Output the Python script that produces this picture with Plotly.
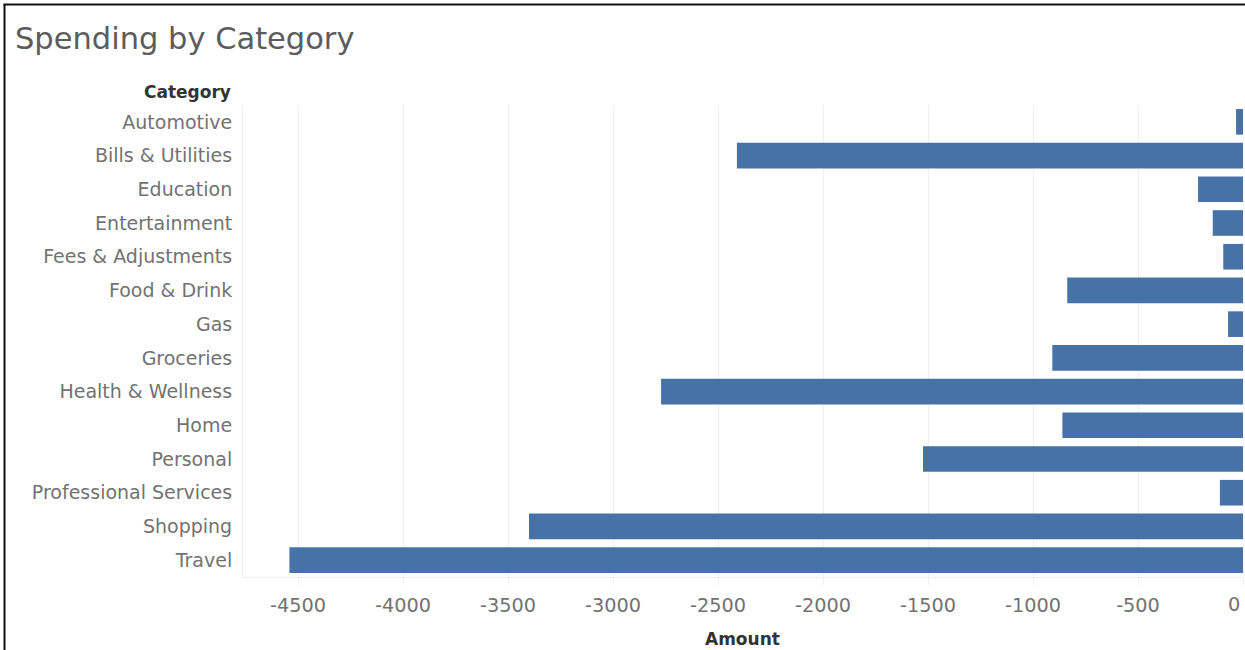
import plotly.graph_objects as go

categories = [
    "Automotive", "Bills & Utilities", "Education", "Entertainment",
    "Fees & Adjustments", "Food & Drink", "Gas", "Groceries",
    "Health & Wellness", "Home", "Personal", "Professional Services",
    "Shopping", "Travel",
]
amounts = [
    -33, -2410, -214, -144, -94, -837, -71, -908,
    -2771, -860, -1524, -110, -3400, -4541,
]
tick_values = [-4500, -4000, -3500, -3000, -2500, -2000, -1500, -1000, -500, 0]
tick_labels = [str(v) for v in tick_values]

FONT = "DejaVu Sans"
BAR = "#4672A8"
LABEL = "#727272"

fig = go.Figure(
    go.Bar(
        x=amounts,
        y=categories,
        orientation="h",
        marker=dict(color=BAR, line=dict(width=0)),
        width=0.76,
        hoverinfo="x+y",
    )
)

fig.update_layout(
    width=1245,
    height=650,
    margin=dict(l=243, r=2, t=105, b=73),
    paper_bgcolor="white",
    plot_bgcolor="white",
    showlegend=False,
    font=dict(family=FONT, color=LABEL),
    title=dict(
        text="Spending by Category",
        x=15 / 1245, xanchor="left", xref="container",
        y=1 - 38 / 650, yanchor="middle", yref="container",
        font=dict(size=30.5, color="#5c5c5c", family=FONT),
    ),
)

# The last tick ("0") sits on the right edge of the figure, so its label is
# placed as an annotation nudged inside the page instead of by the axis.
axis_text = [t if v != 0 else "" for v, t in zip(tick_values, tick_labels)]

fig.update_xaxes(
    range=[-4762, 0],
    tickvals=tick_values,
    ticktext=axis_text,
    showgrid=True,
    gridcolor="#efefef",
    gridwidth=1,
    zeroline=False,
    showline=True,
    linecolor="#eeeeee",
    ticks="outside",
    ticklen=7,
    tickcolor="#eeeeee",
    ticklabelstandoff=4,
    tickfont=dict(size=19.3, color=LABEL, family=FONT),
)

fig.update_yaxes(
    categoryorder="array",
    categoryarray=categories,
    autorange=False,
    range=[len(categories) - 0.5, -0.5],
    showgrid=False,
    zeroline=False,
    showline=True,
    linecolor="#eeeeee",
    ticks="",
    ticklabelstandoff=6,
    tickfont=dict(size=19, color=LABEL, family=FONT),
)

fig.add_annotation(
    text=tick_labels[-1], xref="paper", yref="paper",
    x=(1234 - 243) / 1000, y=-(604 - 577) / 472, xanchor="center", yanchor="middle",
    showarrow=False, font=dict(size=19.3, color=LABEL, family=FONT),
)

# Header above the category labels and axis title below the values
fig.add_annotation(
    text="<b>Category</b>", xref="paper", yref="paper",
    x=-10 / 1000, y=1 + 13 / 472, xanchor="right", yanchor="middle",
    showarrow=False, font=dict(size=17, color="#333333", family=FONT),
)
fig.add_annotation(
    text="<b>Amount</b>", xref="paper", yref="paper",
    x=(742 - 243) / 1000, y=-(639 - 577) / 472, xanchor="center", yanchor="middle",
    showarrow=False, font=dict(size=17, color="#333333", family=FONT),
)

# Dark frame along the left and top edges of the view
fig.add_shape(type="line", xref="paper", yref="paper",
              x0=-238.5 / 1000, x1=-238.5 / 1000, y0=1 + 101 / 472, y1=-73 / 472,
              line=dict(color="#111111", width=2))
fig.add_shape(type="line", xref="paper", yref="paper",
              x0=-239.5 / 1000, x1=1002 / 1000, y0=1 + 100.5 / 472, y1=1 + 100.5 / 472,
              line=dict(color="#111111", width=2))

fig.write_html("out.html")
